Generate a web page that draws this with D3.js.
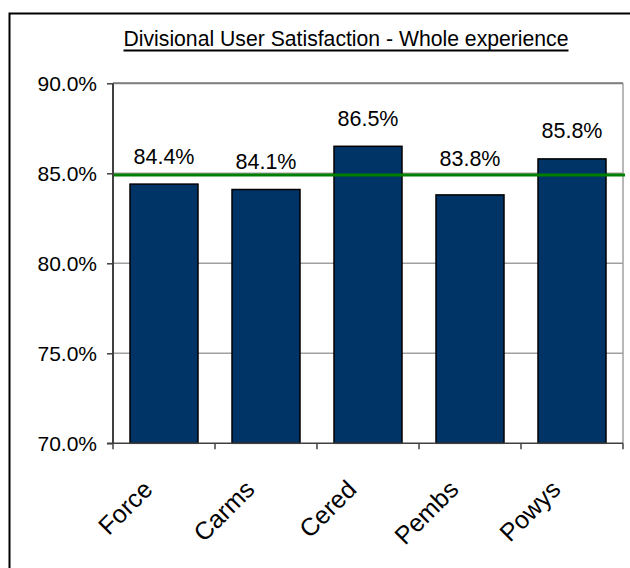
<!DOCTYPE html>
<html>
<head>
<meta charset="utf-8">
<script src="https://cdn.jsdelivr.net/npm/d3@7/dist/d3.min.js"></script>
<style>
  html, body { margin: 0; padding: 0; background: #fff; }
  svg { display: block; }
  text { font-family: "Liberation Sans", Arial, sans-serif; fill: #000; }
</style>
</head>
<body>
<script>
const title = "Divisional User Satisfaction - Whole experience";
const categories = ["Force", "Carms", "Cered", "Pembs", "Powys"];
const values = [0.844, 0.841, 0.865, 0.838, 0.858];
const targetValue = 0.849;
const yTicks = [0.70, 0.75, 0.80, 0.85, 0.90];

const W = 630, H = 568;
const plot = { left: 113, right: 623, top: 83.3, bottom: 443.3 };

const svg = d3.select("body").append("svg").attr("width", W).attr("height", H);

// outer chart border (only top/left visible in frame)
svg.append("rect").attr("x", 9.5).attr("y", 13.5).attr("width", 700).attr("height", 700)
  .attr("fill", "#fff").attr("stroke", "#000").attr("stroke-width", 2);

const x = d3.scaleBand().domain(categories).range([plot.left, plot.right]).paddingInner(1/3).paddingOuter(1/6);
const y = d3.scaleLinear().domain([0.70, 0.90]).range([plot.bottom, plot.top]);
const fmt = d3.format(".1%");

// gridlines
svg.append("g").selectAll("line").data(yTicks.slice(1)).join("line")
  .attr("x1", plot.left).attr("x2", plot.right)
  .attr("y1", d => y(d)).attr("y2", d => y(d))
  .attr("stroke", "#a0a0a0").attr("stroke-width", 1.5);

// plot border (top / right)
svg.append("line").attr("x1", plot.right).attr("x2", plot.right)
  .attr("y1", plot.top).attr("y2", plot.bottom)
  .attr("stroke", "#a0a0a0").attr("stroke-width", 1.5);
svg.append("line").attr("x1", plot.left).attr("x2", plot.right)
  .attr("y1", plot.top).attr("y2", plot.top)
  .attr("stroke", "#808080").attr("stroke-width", 2);

// bars
svg.append("g").selectAll("rect").data(values).join("rect")
  .attr("x", (d, i) => x(categories[i]))
  .attr("width", x.bandwidth())
  .attr("y", d => y(d))
  .attr("height", d => y(0.70) - y(d))
  .attr("fill", "#003366").attr("stroke", "#000").attr("stroke-width", 1.5);

// target line
svg.append("line").attr("x1", plot.left).attr("x2", 625)
  .attr("y1", y(targetValue)).attr("y2", y(targetValue))
  .attr("stroke", "#008000").attr("stroke-width", 3);

// y axis
const yAxis = d3.axisLeft(y).tickValues(yTicks).tickFormat(fmt).tickSize(6).tickPadding(10);
const gy = svg.append("g").attr("transform", `translate(${plot.left},0)`).call(yAxis);
gy.select(".domain").attr("stroke", "#404040").attr("stroke-width", 2).attr("d", `M0,${plot.top}V${plot.bottom}`);
gy.selectAll(".tick line").attr("stroke", "#404040").attr("stroke-width", 1.5);
gy.selectAll(".tick text").attr("font-size", 21).attr("font-family", "Liberation Sans, Arial, sans-serif").attr("fill", "#000");

// x axis
const xAxis = d3.axisBottom(x).tickSize(0).tickFormat("");
const gx = svg.append("g").attr("transform", `translate(0,${plot.bottom})`).call(xAxis);
gx.select(".domain").attr("stroke", "#404040").attr("stroke-width", 1.5).attr("d", `M${plot.left - 6},0H${plot.right}`);
const step = x.step();
const boundaries = d3.range(categories.length + 1).map(i => plot.left + i * step);
svg.append("g").selectAll("line").data(boundaries).join("line")
  .attr("x1", d => d).attr("x2", d => d)
  .attr("y1", plot.bottom).attr("y2", plot.bottom + 6)
  .attr("stroke", "#404040").attr("stroke-width", 1.5);

svg.append("g").selectAll("text").data(categories).join("text")
  .attr("transform", d => `translate(${x(d) + x.bandwidth() / 2 - 10},491) rotate(-45)`)
  .attr("text-anchor", "end")
  .attr("font-size", 25)
  .text(d => d);

// value labels (moved above target line if overlapping)
const yT = y(targetValue);
svg.append("g").selectAll("text").data(values).join("text")
  .attr("x", (d, i) => x(categories[i]) + x.bandwidth() / 2)
  .attr("y", d => {
    let b = y(d) - 20.5;
    if (b > yT - 5 && b < yT + 20) b = yT - 9.5;
    return b;
  })
  .attr("text-anchor", "middle")
  .attr("font-size", 21.5)
  .text(d => fmt(d));

// title
const t = svg.append("text").attr("x", 346).attr("y", 46).attr("text-anchor", "middle")
  .attr("font-size", 22).attr("textLength", 445).attr("lengthAdjust", "spacingAndGlyphs").text(title);
svg.append("line").attr("x1", 346 - 222.5).attr("x2", 346 + 222.5)
  .attr("y1", 50.5).attr("y2", 50.5).attr("stroke", "#000").attr("stroke-width", 2);
</script>
</body>
</html>
